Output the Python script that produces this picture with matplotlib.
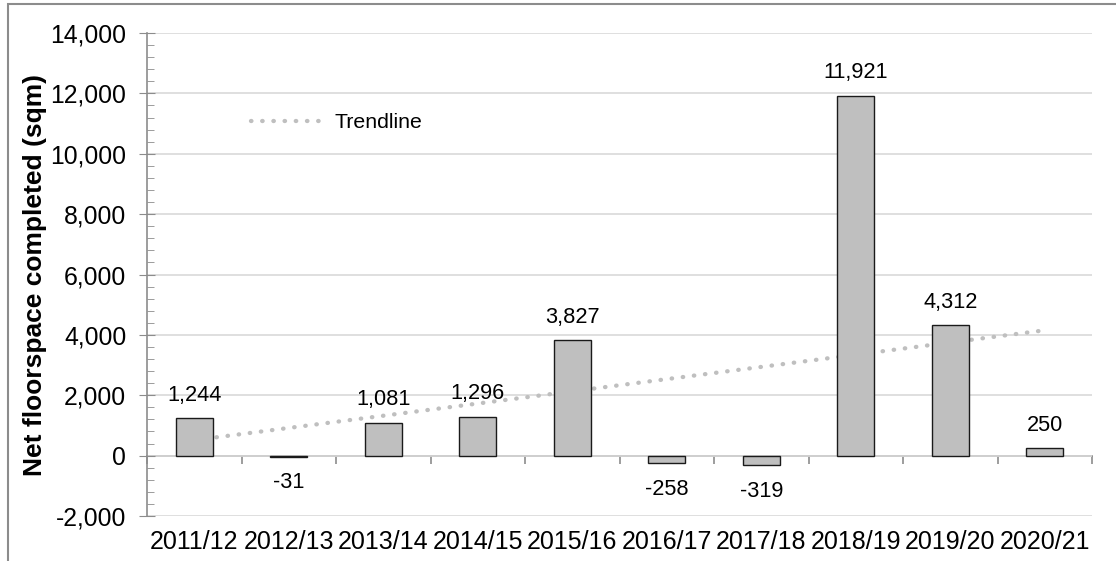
import numpy as np
import matplotlib
matplotlib.use("Agg")
import matplotlib.pyplot as plt
from matplotlib.patches import Rectangle

years = ["2011/12", "2012/13", "2013/14", "2014/15", "2015/16",
         "2016/17", "2017/18", "2018/19", "2019/20", "2020/21"]
floorspace = [1244, -31, 1081, 1296, 3827, -258, -319, 11921, 4312, 250]

plt.rcParams["font.family"] = ["Liberation Sans", "DejaVu Sans"]

fig = plt.figure(figsize=(11.16, 5.61), dpi=100)
ax = fig.add_axes([147 / 1116, 1 - 516 / 561, (1092 - 147) / 1116, (516 - 33) / 561])

x = np.arange(len(years))
grey = "#8c8c8c"

# linear trendline (behind bars)
slope, icpt = np.polyfit(x, floorspace, 1)
ax.plot(x, slope * x + icpt, color="#bfbfbf", lw=3.1,
        linestyle=(0, (0.1, 2.5)), dash_capstyle="round", zorder=2, label="Trendline")

ax.bar(x, floorspace, width=0.39, color="#bfbfbf", edgecolor="#1a1a1a", linewidth=1, zorder=3)

for xi, v in zip(x, floorspace):
    if v >= 0:
        ax.annotate(f"{v:,}", (xi, v), xytext=(0, 9), textcoords="offset points",
                    ha="center", va="bottom", fontsize=15.7)
    else:
        ax.annotate(f"{v:,}", (xi, v), xytext=(0, -11), textcoords="offset points",
                    ha="center", va="top", fontsize=15.7)

ax.set_xlim(-0.5, len(years) - 0.5)
ax.set_ylim(-2000, 14000)
ax.set_yticks(np.arange(-2000, 14001, 2000))
ax.set_yticks(np.arange(-2000, 14001, 400), minor=True)
ax.yaxis.set_major_formatter(matplotlib.ticker.FuncFormatter(lambda v, p: f"{int(v):,}"))
ax.yaxis.grid(True, color="#d9d9d9", lw=1.2, zorder=0)
ax.set_axisbelow(True)

ax.set_xticks(x)
ax.set_xticklabels(years, fontsize=18)
ax.tick_params(axis="x", length=0, pad=10)
ax.tick_params(axis="y", which="major", direction="inout", length=12, color=grey,
               labelsize=17.8, pad=9)
ax.tick_params(axis="y", which="minor", direction="in", length=5, color=grey)

for s in ["top", "right", "bottom"]:
    ax.spines[s].set_visible(False)
ax.spines["left"].set_color(grey)
ax.spines["left"].set_linewidth(1.2)

# category axis drawn at zero
sec = ax.secondary_xaxis(0.125)
sec.set_xticks(np.arange(-0.5, len(years), 1.0))
sec.set_xticklabels([])
sec.tick_params(direction="out", length=6, color=grey, width=1.2)
sec.spines["bottom"].set_color(grey)
sec.spines["bottom"].set_linewidth(1.2)

ax.set_ylabel("Net floorspace completed (sqm)", fontsize=19, fontweight="bold", labelpad=2)

ax.legend(loc="center left", bbox_to_anchor=(0.09, 0.814), frameon=False,
          fontsize=15.3, handlelength=3.3, handletextpad=0.6)

fig.add_artist(Rectangle((8 / 1116, -0.5), 2, 0.5 + (1 - 4 / 561), transform=fig.transFigure,
                         fill=False, edgecolor="#8c8c8c", lw=1.5))

fig.savefig("out.png", dpi=100)
